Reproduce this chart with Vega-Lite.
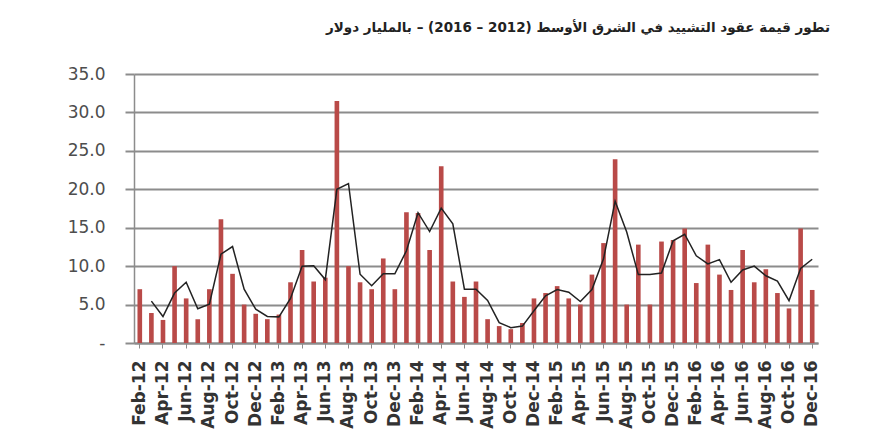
{
  "$schema": "https://vega.github.io/schema/vega-lite/v6.json",
  "width": 684,
  "height": 269,
  "autosize": {"type": "none"},
  "padding": {"left": 134, "top": 74, "right": 52, "bottom": 98},
  "background": "white",
  "title": {
    "text": "تطور قيمة عقود التشييد في الشرق الأوسط (2012 – 2016) – بالمليار دولار",
    "anchor": "end",
    "frame": "group",
    "dx": 12,
    "offset": 24,
    "baseline": "middle",
    "font": "DejaVu Sans",
    "fontSize": 13.5,
    "fontWeight": "bold",
    "color": "#222222"
  },
  "data": {
    "values": [
      {"month": "Feb-12", "value": 7.0, "avg": null},
      {"month": "Mar-12", "value": 3.9, "avg": 5.45},
      {"month": "Apr-12", "value": 3.0, "avg": 3.45},
      {"month": "May-12", "value": 10.0, "avg": 6.5},
      {"month": "Jun-12", "value": 5.8, "avg": 7.9},
      {"month": "Jul-12", "value": 3.1, "avg": 4.45},
      {"month": "Aug-12", "value": 7.0, "avg": 5.05},
      {"month": "Sep-12", "value": 16.1, "avg": 11.55},
      {"month": "Oct-12", "value": 9.0, "avg": 12.55},
      {"month": "Nov-12", "value": 5.0, "avg": 7.0},
      {"month": "Dec-12", "value": 3.8, "avg": 4.4},
      {"month": "Jan-13", "value": 3.1, "avg": 3.45},
      {"month": "Feb-13", "value": 3.7, "avg": 3.4},
      {"month": "Mar-13", "value": 7.9, "avg": 5.8},
      {"month": "Apr-13", "value": 12.1, "avg": 10.0},
      {"month": "May-13", "value": 8.0, "avg": 10.05},
      {"month": "Jun-13", "value": 8.5, "avg": 8.25},
      {"month": "Jul-13", "value": 31.5, "avg": 20.0},
      {"month": "Aug-13", "value": 10.0, "avg": 20.75},
      {"month": "Sep-13", "value": 7.9, "avg": 8.95},
      {"month": "Oct-13", "value": 7.0, "avg": 7.45},
      {"month": "Nov-13", "value": 11.0, "avg": 9.0},
      {"month": "Dec-13", "value": 7.0, "avg": 9.0},
      {"month": "Jan-14", "value": 17.0, "avg": 12.0},
      {"month": "Feb-14", "value": 16.9, "avg": 16.95},
      {"month": "Mar-14", "value": 12.1, "avg": 14.5},
      {"month": "Apr-14", "value": 23.0, "avg": 17.55},
      {"month": "May-14", "value": 8.0, "avg": 15.5},
      {"month": "Jun-14", "value": 6.0, "avg": 7.0},
      {"month": "Jul-14", "value": 8.0, "avg": 7.0},
      {"month": "Aug-14", "value": 3.1, "avg": 5.55},
      {"month": "Sep-14", "value": 2.2, "avg": 2.65},
      {"month": "Oct-14", "value": 1.8, "avg": 2.0},
      {"month": "Nov-14", "value": 2.6, "avg": 2.2},
      {"month": "Dec-14", "value": 5.8, "avg": 4.2},
      {"month": "Jan-15", "value": 6.5, "avg": 6.15},
      {"month": "Feb-15", "value": 7.4, "avg": 6.95},
      {"month": "Mar-15", "value": 5.8, "avg": 6.6},
      {"month": "Apr-15", "value": 5.0, "avg": 5.4},
      {"month": "May-15", "value": 8.9, "avg": 6.95},
      {"month": "Jun-15", "value": 13.0, "avg": 10.95},
      {"month": "Jul-15", "value": 23.9, "avg": 18.45},
      {"month": "Aug-15", "value": 5.0, "avg": 14.45},
      {"month": "Sep-15", "value": 12.8, "avg": 8.9},
      {"month": "Oct-15", "value": 5.0, "avg": 8.9},
      {"month": "Nov-15", "value": 13.2, "avg": 9.1},
      {"month": "Dec-15", "value": 13.4, "avg": 13.3},
      {"month": "Jan-16", "value": 14.9, "avg": 14.15},
      {"month": "Feb-16", "value": 7.8, "avg": 11.35},
      {"month": "Mar-16", "value": 12.8, "avg": 10.3},
      {"month": "Apr-16", "value": 8.9, "avg": 10.85},
      {"month": "May-16", "value": 6.9, "avg": 7.9},
      {"month": "Jun-16", "value": 12.1, "avg": 9.5},
      {"month": "Jul-16", "value": 7.9, "avg": 10.0},
      {"month": "Aug-16", "value": 9.6, "avg": 8.75},
      {"month": "Sep-16", "value": 6.5, "avg": 8.05},
      {"month": "Oct-16", "value": 4.5, "avg": 5.5},
      {"month": "Nov-16", "value": 14.9, "avg": 9.7},
      {"month": "Dec-16", "value": 6.9, "avg": 10.9}
    ]
  },
  "encoding": {
    "x": {
      "field": "month",
      "type": "ordinal",
      "sort": null,
      "scale": {"paddingInner": 0.6, "paddingOuter": 0.3},
      "axis": {
        "title": null,
        "values": ["Feb-12","Apr-12","Jun-12","Aug-12","Oct-12","Dec-12","Feb-13","Apr-13","Jun-13","Aug-13","Oct-13","Dec-13","Feb-14","Apr-14","Jun-14","Aug-14","Oct-14","Dec-14","Feb-15","Apr-15","Jun-15","Aug-15","Oct-15","Dec-15","Feb-16","Apr-16","Jun-16","Aug-16","Oct-16","Dec-16"],
        "labelAngle": -90,
        "labelAlign": "right",
        "labelBaseline": "middle",
        "labelFont": "DejaVu Sans",
        "labelFontWeight": "bold",
        "labelFontSize": 17,
        "labelColor": "#333333",
        "labelPadding": 12,
        "labelOverlap": false,
        "tickSize": 5,
        "tickColor": "#8c8c8c",
        "domainColor": "#8c8c8c",
        "domainWidth": 2
      }
    },
    "y": {
      "type": "quantitative",
      "scale": {"domain": [0, 35], "nice": false, "zero": true},
      "axis": {
        "title": null,
        "values": [0, 5, 10, 15, 20, 25, 30, 35],
        "labelOverlap": false,
        "labelExpr": "datum.value == 0 ? '-' : format(datum.value, '.1f')",
        "labelFont": "DejaVu Sans",
        "labelFontSize": 17,
        "labelColor": "#4d4d4d",
        "labelPadding": 20,
        "tickSize": 9,
        "tickColor": "#8c8c8c",
        "tickWidth": 2,
        "domainColor": "#8c8c8c",
        "domainWidth": 1.5,
        "grid": true,
        "gridColor": "#8c8c8c",
        "gridWidth": 2
      }
    }
  },
  "layer": [
    {
      "mark": {"type": "bar", "color": "#b94a48"},
      "encoding": {
        "y": {"field": "value"}
      }
    },
    {
      "mark": {"type": "line", "color": "#222222", "strokeWidth": 1.5},
      "encoding": {
        "y": {"field": "avg"}
      }
    }
  ],
  "config": {"view": {"stroke": null}}
}
